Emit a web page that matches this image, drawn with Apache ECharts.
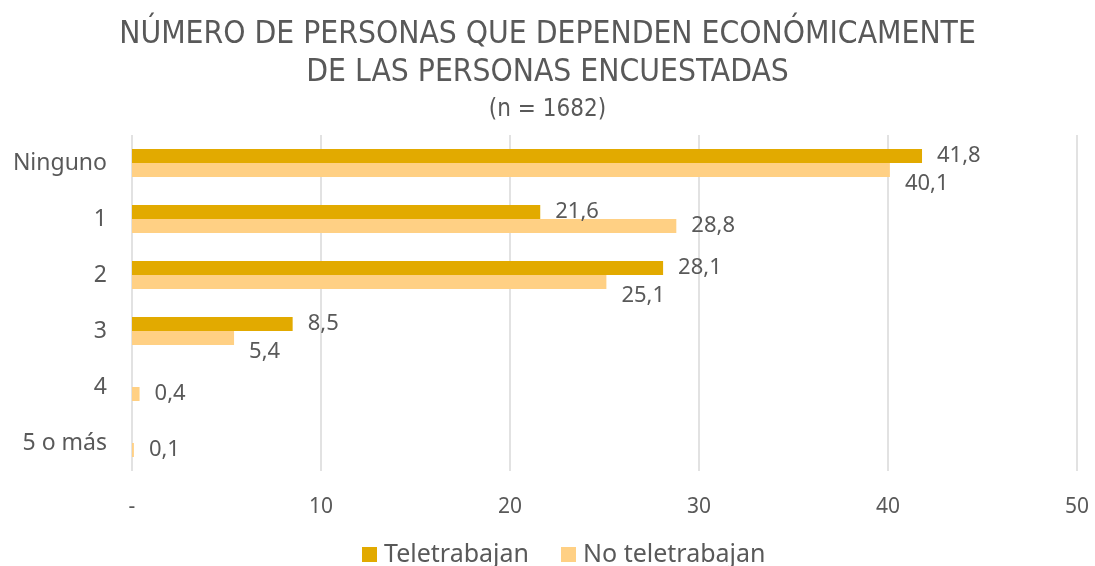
<!DOCTYPE html>
<html><head><meta charset="utf-8">
<script src="https://cdn.jsdelivr.net/npm/echarts@6/dist/echarts.min.js"></script>
<style>html,body{margin:0;padding:0;background:#fff}#c{width:1095px;height:566px}</style>
</head><body><div id="c"></div>
<script>
const categories = ['Ninguno', '1', '2', '3', '4', '5 o más'];
const teletrabajan = [41.8, 21.6, 28.1, 8.5, null, null];
const noTeletrabajan = [40.1, 28.8, 25.1, 5.4, 0.4, 0.1];
const xTicks = [0, 10, 20, 30, 40, 50];

const fmt = v => (v === 0 ? '-' : String(v).replace('.', ','));
const textColor = '#595959';
const font = 'Noto Sans';
const titleFont = 'DejaVu Sans Condensed';

const noData = noTeletrabajan.map((v, i) => {
  const t = teletrabajan[i];
  const close = t != null && Math.abs(t - v) < 4;
  return close ? { value: v, label: { offset: [0, 14] } } : v;
});

const chart = echarts.init(document.getElementById('c'));
chart.setOption({
  animation: false,
  title: [
    { text: 'NÚMERO DE PERSONAS QUE DEPENDEN ECONÓMICAMENTE\nDE LAS PERSONAS ENCUESTADAS', left: 'center', top: 11,
      textStyle: { fontFamily: titleFont, fontWeight: 'normal', fontSize: 31.5, lineHeight: 38, color: textColor } },
    { text: '(n = 1682)', left: 'center', top: 93,
      textStyle: { fontFamily: titleFont, fontWeight: 'normal', fontSize: 24, color: textColor } }
  ],
  grid: { left: 132, right: 18, top: 135, bottom: 95, containLabel: false },
  legend: {
    bottom: -6, left: 357, itemWidth: 15, itemHeight: 15, itemGap: 32,
    icon: 'rect',
    textStyle: { fontFamily: font, fontSize: 25, color: textColor, padding: [0, 0, 0, 2] }
  },
  xAxis: {
    type: 'value', min: xTicks[0], max: xTicks[xTicks.length - 1], interval: 10,
    axisLine: { show: false }, axisTick: { show: false },
    splitLine: { lineStyle: { color: '#d9d9d9', width: 1.5 } },
    axisLabel: { formatter: fmt, margin: 26, fontFamily: font, fontSize: 21, color: textColor }
  },
  yAxis: {
    type: 'category', data: categories, inverse: true,
    axisLine: { show: false }, axisTick: { show: false },
    axisLabel: { margin: 25, fontFamily: font, fontSize: 23, color: textColor }
  },
  series: [
    { name: 'Teletrabajan', type: 'bar', data: teletrabajan, barGap: '0%', barCategoryGap: '50%',
      itemStyle: { color: '#E2AA00' },
      label: { show: true, position: 'right', distance: 15, formatter: p => fmt(p.value),
        fontFamily: font, fontSize: 22, color: textColor } },
    { name: 'No teletrabajan', type: 'bar', data: noData,
      itemStyle: { color: '#FFD084' },
      label: { show: true, position: 'right', distance: 15, formatter: p => fmt(p.value),
        fontFamily: font, fontSize: 22, color: textColor } }
  ]
});
</script></body></html>
